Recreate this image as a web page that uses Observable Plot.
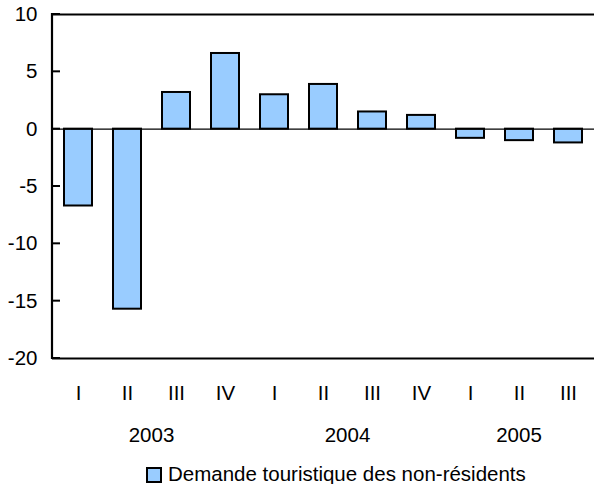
<!DOCTYPE html>
<html>
<head>
<meta charset="utf-8">
<script src="https://cdn.jsdelivr.net/npm/d3@7"></script>
<script src="https://cdn.jsdelivr.net/npm/@observablehq/plot@0.6"></script>
<style>
  body { margin: 0; background: #fff; font-family: "Liberation Sans", Arial, sans-serif; }
  #chart svg text { font-size: 20.5px; fill: #000; }
  #legend { position: relative; height: 34px; font-size: 20.5px; color: #000; }
  #legend .sw { position: absolute; left: 146px; top: 17px; width: 12px; height: 12px; background: #99CCFF; border: 2px solid #000; }
  #legend .lbl { position: absolute; left: 168px; top: 12px; line-height: 24px; white-space: nowrap; }
</style>
</head>
<body>
<div id="chart"></div>
<div id="legend"><div class="sw"></div><span class="lbl">Demande touristique des non-résidents</span></div>
<script>
const quarters = ["I", "II", "III", "IV", "I", "II", "III", "IV", "I", "II", "III"];
const years = ["2003", "2003", "2003", "2003", "2004", "2004", "2004", "2004", "2005", "2005", "2005"];
const values = [-6.7, -15.7, 3.2, 6.6, 3.0, 3.9, 1.5, 1.2, -0.8, -1.0, -1.2];
const yTicks = [-20, -15, -10, -5, 0, 5, 10];
const seriesName = "Demande touristique des non-résidents";

const data = values.map((v, i) => ({key: years[i] + "-" + quarters[i] + "-" + i, q: quarters[i], year: years[i], value: v}));
const keys = data.map(d => d.key);
const yearNames = [...new Set(years)];
const yearGroups = yearNames.map(y => {
  const ks = data.filter(d => d.year === y).map(d => d.key);
  return {year: y, first: ks[0], last: ks[ks.length - 1]};
});

function bandwidthOf(x) {
  return typeof x.bandwidth === "function" ? x.bandwidth() : (x.bandwidth || 0);
}

function yearLabels(index, scales, values, dimensions) {
  const x = scales.x;
  const bw = bandwidthOf(x);
  const g = d3.create("svg:g").attr("text-anchor", "middle");
  const yPos = dimensions.height - dimensions.marginBottom + 77;
  for (const grp of yearGroups) {
    const cx = (x(grp.first) + x(grp.last) + bw) / 2;
    g.append("text").attr("x", cx).attr("y", yPos).attr("dy", "0.35em").text(grp.year);
  }
  return g.node();
}

function leftAxis(index, scales, values, dimensions) {
  const y = scales.y;
  const x0 = dimensions.marginLeft;
  const g = d3.create("svg:g").attr("stroke", "#000").attr("fill", "none");
  g.append("line").attr("x1", x0).attr("x2", x0)
    .attr("y1", y(yTicks[yTicks.length - 1]) - 1).attr("y2", y(yTicks[0]) + 1)
    .attr("stroke-width", 2.2);
  for (const t of yTicks) {
    g.append("line").attr("x1", x0).attr("x2", x0 + 8)
      .attr("y1", y(t)).attr("y2", y(t)).attr("stroke-width", 2);
  }
  return g.node();
}

const chart = Plot.plot({
  width: 594,
  height: 450,
  marginLeft: 52,
  marginRight: 0,
  marginTop: 14,
  marginBottom: 92,
  style: {fontFamily: "Liberation Sans, Arial, sans-serif", fontSize: "20.5px", color: "#000", background: "#fff", overflow: "visible"},
  x: {domain: keys, paddingInner: 0.43, paddingOuter: 0.215, label: null},
  y: {domain: [-20, 10], label: null},
  marks: [
    Plot.barY(data, {x: "key", y: "value", fill: "#99CCFF", stroke: "#000", strokeWidth: 2}),
    Plot.ruleY([0], {stroke: "#000", strokeWidth: 1.2}),
    Plot.ruleY([10], {stroke: "#000", strokeWidth: 1.8}),
    Plot.ruleY([-20], {stroke: "#000", strokeWidth: 2.2}),
    Plot.axisY({ticks: yTicks, tickSize: 0, tickPadding: 15, tickFormat: d => String(d), label: null}),
    Plot.axisX({tickSize: 0, tickPadding: 27, tickFormat: k => k.split("-")[1], label: null}),
    leftAxis,
    yearLabels
  ]
});
document.getElementById("chart").appendChild(chart);
</script>
</body>
</html>
